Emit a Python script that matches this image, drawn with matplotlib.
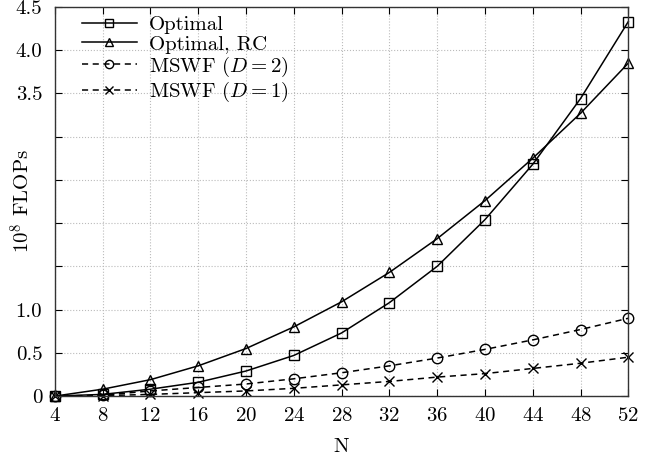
import numpy as np
import matplotlib.pyplot as plt

plt.rcParams['font.family'] = ['cmr10', 'DejaVu Serif']
plt.rcParams['mathtext.fontset'] = 'cm'
plt.rcParams['axes.formatter.use_mathtext'] = True
plt.rcParams['font.size'] = 15

N = [4, 8, 12, 16, 20, 24, 28, 32, 36, 40, 44, 48, 52]
optimal = [0.0, 0.02, 0.08, 0.16, 0.29, 0.47, 0.73, 1.08, 1.50, 2.04, 2.68, 3.44, 4.33]
optimal_rc = [0.0, 0.08, 0.19, 0.35, 0.55, 0.80, 1.09, 1.43, 1.82, 2.26, 2.75, 3.27, 3.85]
mswf_d2 = [0.0, 0.01, 0.06, 0.10, 0.14, 0.20, 0.27, 0.35, 0.44, 0.54, 0.65, 0.77, 0.90]
mswf_d1 = [0.0, 0.005, 0.02, 0.04, 0.06, 0.09, 0.13, 0.17, 0.22, 0.26, 0.32, 0.38, 0.45]

yticks = [0, 0.5, 1.0, 1.5, 2.0, 2.5, 3.0, 3.5, 4.0, 4.5]
ylabels = ['0', '0.5', '1.0', '', '', '', '', '3.5', '4.0', '4.5']

fig = plt.figure(figsize=(6.6, 4.59), dpi=100)
ax = fig.add_axes([0.083, 0.137, 0.869, 0.848])

mk = dict(color='black', lw=1.1, markerfacecolor='none', markeredgecolor='black',
          markeredgewidth=1.0, markersize=7.5, clip_on=False)
ax.plot(N, optimal, '-', marker='s', label='Optimal', **mk)
ax.plot(N, optimal_rc, '-', marker='^', label='Optimal, RC', **mk)
ax.plot(N, mswf_d2, '--', marker='o', label='MSWF ($D=2$)', dashes=(4, 3), **mk)
ax.plot(N, mswf_d1, '--', marker='x', label='MSWF ($D=1$)', dashes=(4, 3), **mk)

ax.set_xlim(4, 52)
ax.set_ylim(0, 4.5)
ax.set_xticks(N)
ax.set_yticks(yticks)
ax.set_yticklabels(ylabels)
ax.grid(True, linestyle=':', color='#bbbbbb', linewidth=0.8)
ax.set_axisbelow(True)
ax.tick_params(direction='in', top=True, right=True, length=5)
ax.tick_params(axis='x', pad=8)
ax.tick_params(axis='y', pad=9)
for s in ax.spines.values():
    s.set_linewidth(1.0)
    s.set_color('#333333')

ax.set_xlabel('N', labelpad=9)
ax.set_ylabel('$10^8$ FLOPs', fontsize=15)
ax.yaxis.set_label_coords(-0.037, 0.5)

leg = ax.legend(loc='upper left', frameon=False, handlelength=2.6, borderaxespad=0.1,
                labelspacing=0.05, handletextpad=0.6, markerscale=0.8,
                bbox_to_anchor=(0.03, 1.005))

fig.savefig('out.png', dpi=100)
